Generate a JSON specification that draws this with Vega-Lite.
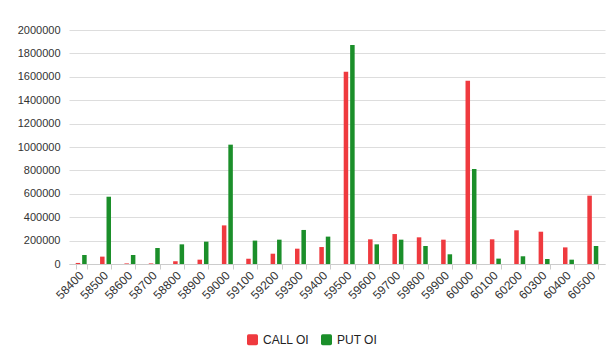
{
  "$schema": "https://vega.github.io/schema/vega-lite/v6.json",
  "autosize": "none",
  "width": 536,
  "height": 234,
  "padding": {"left": 69, "top": 30, "right": 10, "bottom": 86},
  "background": "white",
  "config": {
    "font": "Liberation Sans",
    "view": {"stroke": null}
  },
  "data": {
    "values": [
      {"strike": "58400", "series": "CALL OI", "oi": 9000},
      {"strike": "58400", "series": "PUT OI", "oi": 77000},
      {"strike": "58500", "series": "CALL OI", "oi": 63000},
      {"strike": "58500", "series": "PUT OI", "oi": 575000},
      {"strike": "58600", "series": "CALL OI", "oi": 5000},
      {"strike": "58600", "series": "PUT OI", "oi": 77000},
      {"strike": "58700", "series": "CALL OI", "oi": 5000},
      {"strike": "58700", "series": "PUT OI", "oi": 137000},
      {"strike": "58800", "series": "CALL OI", "oi": 24000},
      {"strike": "58800", "series": "PUT OI", "oi": 168000},
      {"strike": "58900", "series": "CALL OI", "oi": 37000},
      {"strike": "58900", "series": "PUT OI", "oi": 191000},
      {"strike": "59000", "series": "CALL OI", "oi": 330000},
      {"strike": "59000", "series": "PUT OI", "oi": 1020000},
      {"strike": "59100", "series": "CALL OI", "oi": 45000},
      {"strike": "59100", "series": "PUT OI", "oi": 200000},
      {"strike": "59200", "series": "CALL OI", "oi": 88000},
      {"strike": "59200", "series": "PUT OI", "oi": 208000},
      {"strike": "59300", "series": "CALL OI", "oi": 131000},
      {"strike": "59300", "series": "PUT OI", "oi": 291000},
      {"strike": "59400", "series": "CALL OI", "oi": 145000},
      {"strike": "59400", "series": "PUT OI", "oi": 234000},
      {"strike": "59500", "series": "CALL OI", "oi": 1644000},
      {"strike": "59500", "series": "PUT OI", "oi": 1872000},
      {"strike": "59600", "series": "CALL OI", "oi": 211000},
      {"strike": "59600", "series": "PUT OI", "oi": 168000},
      {"strike": "59700", "series": "CALL OI", "oi": 256000},
      {"strike": "59700", "series": "PUT OI", "oi": 208000},
      {"strike": "59800", "series": "CALL OI", "oi": 228000},
      {"strike": "59800", "series": "PUT OI", "oi": 154000},
      {"strike": "59900", "series": "CALL OI", "oi": 208000},
      {"strike": "59900", "series": "PUT OI", "oi": 83000},
      {"strike": "60000", "series": "CALL OI", "oi": 1567000},
      {"strike": "60000", "series": "PUT OI", "oi": 812000},
      {"strike": "60100", "series": "CALL OI", "oi": 211000},
      {"strike": "60100", "series": "PUT OI", "oi": 46000},
      {"strike": "60200", "series": "CALL OI", "oi": 288000},
      {"strike": "60200", "series": "PUT OI", "oi": 66000},
      {"strike": "60300", "series": "CALL OI", "oi": 276000},
      {"strike": "60300", "series": "PUT OI", "oi": 43000},
      {"strike": "60400", "series": "CALL OI", "oi": 142000},
      {"strike": "60400", "series": "PUT OI", "oi": 37000},
      {"strike": "60500", "series": "CALL OI", "oi": 584000},
      {"strike": "60500", "series": "PUT OI", "oi": 154000}
    ]
  },
  "mark": {"type": "bar"},
  "encoding": {
    "x": {
      "field": "strike",
      "type": "nominal",
      "sort": null,
      "scale": {"paddingInner": 0.55, "paddingOuter": 0.275},
      "axis": {
        "title": null,
        "labelAngle": -45,
        "labelAlign": "right",
        "labelBaseline": "middle",
        "labelFontSize": 12,
        "labelColor": "#333333",
        "labelPadding": 4,
        "domainColor": "#cccccc",
        "tickColor": "#cccccc",
        "tickSize": 5,
        "tickBand": "extent",
        "grid": false
      }
    },
    "xOffset": {
      "field": "series",
      "type": "nominal",
      "scale": {"paddingInner": 0.3, "paddingOuter": 0}
    },
    "y": {
      "field": "oi",
      "type": "quantitative",
      "scale": {"domain": [0, 2000000], "nice": false},
      "axis": {
        "title": null,
        "values": [0, 200000, 400000, 600000, 800000, 1000000, 1200000, 1400000, 1600000, 1800000, 2000000],
        "format": "d",
        "labelFontSize": 11,
        "labelColor": "#333333",
        "labelPadding": 9,
        "ticks": false,
        "domain": false,
        "gridColor": "#dddddd",
        "gridWidth": 1
      }
    },
    "color": {
      "field": "series",
      "type": "nominal",
      "scale": {"domain": ["CALL OI", "PUT OI"], "range": ["#ef3a3f", "#1b8f2a"]},
      "legend": {
        "title": null,
        "orient": "none",
        "direction": "horizontal",
        "legendX": 177,
        "legendY": 303,
        "padding": 0,
        "symbolType": "M-1,-0.7 Q-1,-1 -0.7,-1 L0.7,-1 Q1,-1 1,-0.7 L1,0.7 Q1,1 0.7,1 L-0.7,1 Q-1,1 -1,0.7 Z",
        "symbolSize": 121,
        "symbolOpacity": 1,
        "labelFontSize": 12,
        "labelColor": "#222222",
        "labelOffset": 4,
        "columnPadding": 10
      }
    }
  }
}
